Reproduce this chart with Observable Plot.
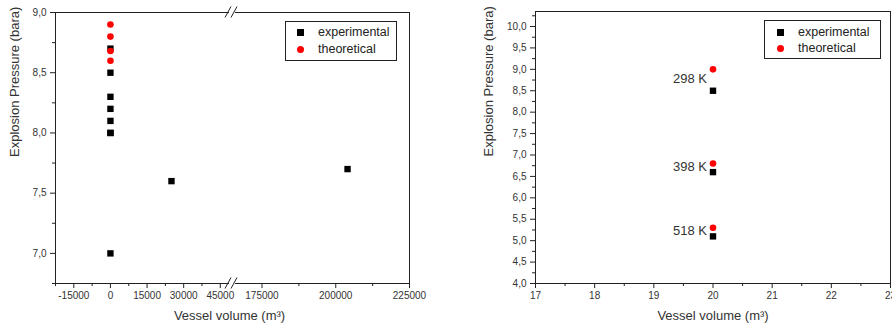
<!DOCTYPE html>
<html><head><meta charset="utf-8">
<script src="https://cdn.jsdelivr.net/npm/d3@7"></script>
<script src="https://cdn.jsdelivr.net/npm/@observablehq/plot@0.6"></script>
<style>
html,body{margin:0;padding:0;background:#fff;}
#root{position:relative;width:892px;height:331px;overflow:hidden;font-family:"Liberation Sans",Arial,sans-serif;}
.panel{position:absolute;top:0;}
.panel svg{max-width:none !important;}
.legend{position:absolute;border:1px solid #222;background:#fff;font-size:12.5px;color:#222;box-sizing:border-box;}
.row{position:absolute;height:14px;line-height:14px;white-space:nowrap;}
.sq{position:absolute;width:7px;height:7px;background:#000;}
.ci{position:absolute;width:7px;height:7px;border-radius:50%;background:#f00;}
</style></head><body><div id="root"></div>
<script>
// ---------- data ----------
const seriesNames = ["experimental", "theoretical"];
// left panel
const leftExpVolume   = [1, 0.02, 1, 2, 6, 10, 20, 0.1, 25000, 204000];
const leftExpPressure = [8.7, 8.5, 8.3, 8.2, 8.1, 8.0, 8.0, 7.0, 7.6, 7.7];
const leftTheoVolume   = [1, 2, 20, 10];
const leftTheoPressure = [8.9, 8.8, 8.68, 8.6];
const leftXTicks  = [-15000, 0, 15000, 30000, 45000, 175000, 200000, 225000];
const leftXMinor  = [-22500, -7500, 7500, 22500, 37500, 187500, 212500];
const leftYTicks  = [7.0, 7.5, 8.0, 8.5, 9.0];
const leftYMinor  = [6.75, 7.25, 7.75, 8.25, 8.75];
// right panel
const rightVolume = [20, 20, 20];
const rightExp    = [8.5, 6.6, 5.1];
const rightTheo   = [9.0, 6.8, 5.3];
const rightLabels = ["298 K", "398 K", "518 K"];
const rightXTicks = [17, 18, 19, 20, 21, 22, 23];
const rightXMinor = [17.5, 18.5, 19.5, 20.5, 21.5, 22.5];
const rightYTicks = [4.0,4.5,5.0,5.5,6.0,6.5,7.0,7.5,8.0,8.5,9.0,9.5,10.0];
const rightYMinor = [4.25,4.75,5.25,5.75,6.25,6.75,7.25,7.75,8.25,8.75,9.25,9.75,10.25];
const yLabel = "Explosion Pressure (bara)";
const xLabel = "Vessel volume (m³)";

// ---------- helpers ----------
const fmt = d => d.toFixed(1).replace(".", ",");
const ink = "#222";
const style = {fontFamily: "Liberation Sans, Arial, sans-serif", fontSize: "10px", color: "#333", background: "transparent", overflow: "visible", maxWidth: "none"};

function breakMark(at) {
  return (index, scales, values, dims) => {
    const g = d3.create("svg:g");
    const xb = scales.x(at);
    for (const y of [dims.marginTop, dims.height - dims.marginBottom]) {
      g.append("rect").attr("x", xb - 3).attr("y", y - 2).attr("width", 6).attr("height", 4).attr("fill", "#fff");
      g.append("line").attr("x1", xb - 7).attr("y1", y + 5.5).attr("x2", xb - 1).attr("y2", y - 5.5).attr("stroke", ink);
      g.append("line").attr("x1", xb - 1).attr("y1", y + 5.5).attr("x2", xb + 5).attr("y2", y - 5.5).attr("stroke", ink);
    }
    return g.node();
  };
}

function axes(xT, xM, yT, yM, xf) {
  return [
    Plot.axisX({ticks: xT, tickFormat: xf, tickSize: 5, tickPadding: 3, label: null, stroke: ink, fill: "#333"}),
    Plot.axisX({ticks: xM, tickFormat: () => "", tickSize: 3, label: null, stroke: ink}),
    Plot.axisY({ticks: yT, tickFormat: fmt, tickSize: 5, tickPadding: 4, label: null, stroke: ink, fill: "#333"}),
    Plot.axisY({ticks: yM, tickFormat: () => "", tickSize: 3, label: null, stroke: ink})
  ];
}

function labels(dxY, dyY, dxX) {
  return [
    Plot.text([yLabel], {frameAnchor: "left", text: d => d, rotate: -90, dx: dxY, dy: dyY, fontSize: 13, fill: "#333"}),
    Plot.text([xLabel], {frameAnchor: "bottom", text: d => d, dy: 36, dx: dxX, fontSize: 13, fill: "#333"})
  ];
}

// ---------- left panel ----------
const left = Plot.plot({
  width: 446, height: 331, marginLeft: 55, marginRight: 37, marginTop: 12, marginBottom: 48,
  style,
  x: {type: "linear", domain: [-22500, 50000, 165000, 225000], range: [55, 232, 232, 409]},
  y: {domain: [6.75, 9.0]},
  marks: [
    Plot.frame({stroke: ink}),
    ...axes(leftXTicks, leftXMinor, leftYTicks, leftYMinor, d => String(d)),
    breakMark(50000),
    Plot.dot(leftExpPressure, {x: leftExpVolume, y: leftExpPressure, symbol: "square", r: 3.6, fill: "#000"}),
    Plot.dot(leftTheoPressure, {x: leftTheoVolume, y: leftTheoPressure, symbol: "circle", r: 3.3, fill: "#f00"}),
    ...labels(-41, 9, -3)
  ]
});

// ---------- right panel ----------
const right = Plot.plot({
  width: 470, height: 331, marginLeft: 95, marginRight: 20, marginTop: 11, marginBottom: 48,
  style,
  x: {domain: [17, 23]},
  y: {domain: [4, 10.35]},
  marks: [
    Plot.frame({stroke: ink}),
    ...axes(rightXTicks, rightXMinor, rightYTicks, rightYMinor, d => String(d)),
    Plot.dot(rightExp, {x: rightVolume, y: rightExp, symbol: "square", r: 3.6, fill: "#000"}),
    Plot.dot(rightTheo, {x: rightVolume, y: rightTheo, symbol: "circle", r: 3.3, fill: "#f00"}),
    Plot.text(rightLabels, {x: rightVolume, y: (d, i) => (rightExp[i] + rightTheo[i]) / 2, text: d => d,
      textAnchor: "end", dx: -6, dy: -1, fontSize: 13, fill: "#333"}),
    ...labels(-47, 9, 0)
  ]
});

const root = document.getElementById("root");
function place(node, x, w) {
  const d = document.createElement("div");
  d.className = "panel"; d.style.left = x + "px"; d.style.width = w + "px";
  d.appendChild(node); root.appendChild(d);
}
place(left, 0, 446);
place(right, 440, 470);

function legend(x, y, w, h, iconX, textX, rows) {
  const box = document.createElement("div");
  box.className = "legend";
  Object.assign(box.style, {left: x + "px", top: y + "px", width: w + "px", height: h + "px"});
  seriesNames.forEach((name, i) => {
    const cy = rows[i] - y - 1;
    const ic = document.createElement("span");
    ic.className = i === 0 ? "sq" : "ci";
    Object.assign(ic.style, {left: (iconX - x - 4.5) + "px", top: (cy - 3.5) + "px"});
    const t = document.createElement("span");
    t.className = "row"; t.textContent = name;
    Object.assign(t.style, {left: (textX - x - 1) + "px", top: (cy - 7.5) + "px"});
    box.appendChild(ic); box.appendChild(t);
  });
  root.appendChild(box);
}
legend(285, 21, 112, 40, 300, 318, [32, 49]);
legend(764, 20, 117, 39, 780, 798, [32, 48]);
</script>
</body></html>
